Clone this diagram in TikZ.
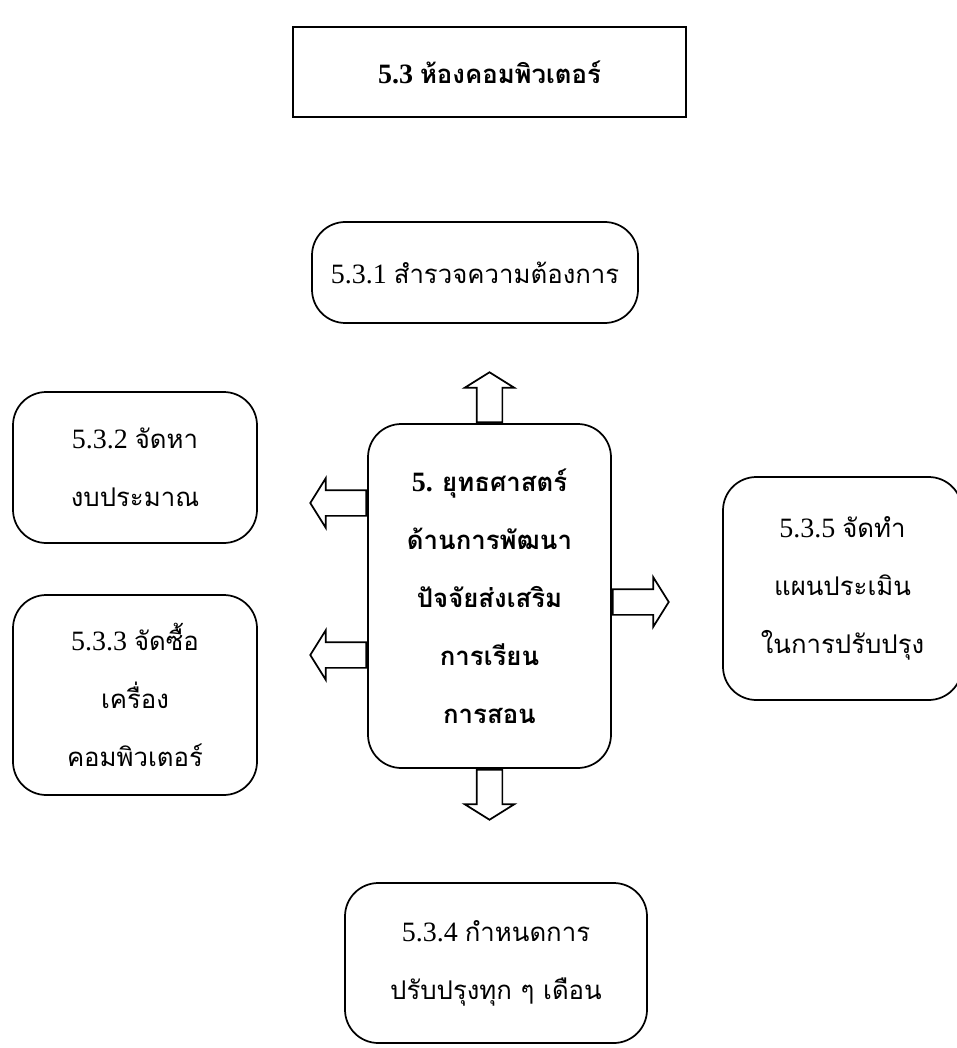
\documentclass[tikz,border=0pt]{standalone}
\usepackage{fontspec}
\setmainfont{Liberation Serif}
\newfontfamily\thai[Script=Thai,Scale=0.92]{Loma}
\usetikzlibrary{positioning,shapes.arrows}

\begin{document}
\begin{tikzpicture}[
  x=0.75pt, y=-0.75pt,
  box/.style={draw, line width=1.3pt, rounded corners=25pt, inner sep=0pt,
    align=center, font=\fontsize{21}{43.5}\selectfont},
  titlebox/.style={draw, line width=1.3pt, inner sep=0pt,
    align=center, font=\fontsize{21}{43.5}\selectfont\bfseries},
  barrow/.style={draw, line width=1.3pt, single arrow, inner sep=9pt,
    single arrow head extend=9pt, single arrow tip angle=116,
    minimum height=42pt, anchor=tail}
]
\useasboundingbox (0,0) rectangle (956,1048);

% heading
\node[titlebox, minimum width=294.75pt, minimum height=67.5pt] (head) at (489.5,72)
  {5.3 {\thai ห้องคอมพิวเตอร์}};

% strategy in the middle
\node[box, font=\fontsize{21}{43.5}\selectfont\bfseries,
  minimum width=182.25pt, minimum height=258pt] (ctr) at (489.5,596)
  {5. {\thai ยุทธศาสตร์}\\{\thai ด้านการพัฒนา}\\{\thai ปัจจัยส่งเสริม}\\{\thai การเรียน}\\{\thai การสอน}};

% the five steps
\node[box, minimum width=244.5pt, minimum height=75.75pt] (s1) at (475,272.5)
  {5.3.1 {\thai สำรวจความต้องการ}};
\node[box, minimum width=183pt, minimum height=113.25pt] (s2) at (135,467.5)
  {5.3.2 {\thai จัดหา}\\{\thai งบประมาณ}};
\node[box, minimum width=183pt, minimum height=150pt] (s3) at (135,695)
  {5.3.3 {\thai จัดซื้อ}\\{\thai เครื่อง}\\{\thai คอมพิวเตอร์}};
\node[box, minimum width=226.5pt, minimum height=120pt] (s4) at (496,963)
  {5.3.4 {\thai กำหนดการ}\\{\thai ปรับปรุงทุก ๆ เดือน}};
\node[box, minimum width=179.25pt, minimum height=167.25pt] (s5) at (842.5,588.5)
  {5.3.5 {\thai จัดทำ}\\{\thai แผนประเมิน}\\{\thai ในการปรับปรุง}};

% hollow arrows out of the middle box
\node[barrow, rotate=90, minimum height=37.5pt] (aup) at (ctr.north) {};
\node[barrow, rotate=-90, minimum height=37.5pt] (adown) at (ctr.south) {};
\node[barrow, rotate=180] (aleft) at (ctr.west |- 0,503) {};
\node[barrow, rotate=180] (aleftb) at (ctr.west |- 0,655) {};
\node[barrow] (aright) at (ctr.east |- 0,602) {};
\end{tikzpicture}
\end{document}
